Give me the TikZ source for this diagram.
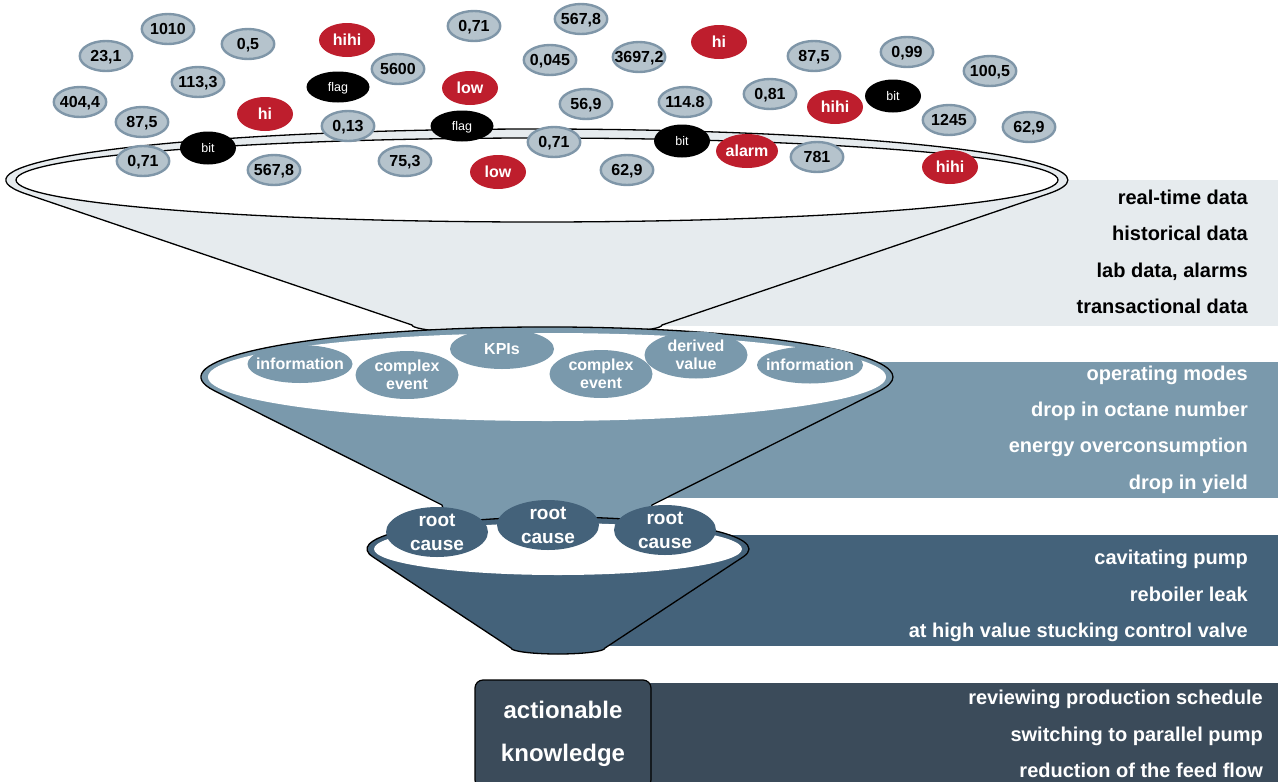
\documentclass[tikz,border=0pt]{standalone}
\usepackage{fontspec}
\setmainfont{Liberation Sans}
\usetikzlibrary{shapes.geometric}

\definecolor{rimgrey}{HTML}{E6EBEE}
\definecolor{valfill}{HTML}{B5C3CC}
\definecolor{valline}{HTML}{7F96A8}
\definecolor{alarmred}{HTML}{BE1E2D}
\definecolor{steel}{HTML}{7A99AC}
\definecolor{slate}{HTML}{44627A}
\definecolor{navy}{HTML}{3B4B5A}

\tikzset{
  funnelline/.style={draw=black, line width=1.3pt, line join=round},
  val/.style={ellipse, draw=valline, line width=2.4pt, fill=valfill,
    minimum width=52.5pt, minimum height=30pt, inner xsep=-6pt, inner ysep=0pt,
    text height=11.5pt, text depth=0pt,
    font=\fontsize{16}{18}\selectfont\bfseries, text=black},
  alert/.style={ellipse, fill=alarmred, minimum width=56pt, minimum height=34pt,
    inner xsep=-4pt, inner ysep=0pt, text height=11.5pt, text depth=0pt,
    font=\fontsize{16}{18}\selectfont\bfseries, text=white},
  flagged/.style={ellipse, fill=black, minimum width=56pt, minimum height=33pt,
    inner sep=0pt, text height=9pt, text depth=0pt,
    font=\fontsize{12.5}{14}\selectfont, text=white},
  info/.style={ellipse, fill=steel, minimum width=104pt, minimum height=40pt,
    inner xsep=-9pt, inner ysep=-2pt, align=center,
    font=\fontsize{16}{18}\selectfont\bfseries, text=white},
  cause/.style={ellipse, fill=slate, minimum width=102pt, minimum height=50pt,
    inner xsep=-2pt, inner ysep=-2pt, align=center,
    font=\fontsize{19}{24}\selectfont\bfseries, text=white},
  datatxt/.style={anchor=mid east, inner sep=0pt,
    font=\fontsize{20}{22}\selectfont\bfseries},
  knowbox/.style={draw=black, line width=1.2pt, rounded corners=8pt, fill=navy,
    minimum width=176pt, minimum height=108pt, align=center, text=white,
    font=\fontsize{24}{43}\selectfont\bfseries}
}

\begin{document}
\begin{tikzpicture}[x=1pt, y=-1pt]
\useasboundingbox (0,0) rectangle (1278,782);

% colour bands behind the funnels
\fill[rimgrey] (540,180) rectangle (1278,326);
\fill[steel]   (560,362) rectangle (1278,498);
\fill[slate]   (560,535) rectangle (1278,646);
\fill[navy]    (600,683) rectangle (1278,782);

% top funnel: raw data
\path[funnelline, fill=rimgrey] (26.0,193.9)
  arc[start angle=164.2, end angle=375.8, x radius=531, y radius=51]
  -- (662,325) arc[start angle=0, end angle=180, x radius=125, y radius=10] -- cycle;
\draw[funnelline, fill=white] (537,180) ellipse [x radius=521, y radius=42];

% raw values
\node[val] (v1)  at (168,29)  {1010};
\node[val] (v2)  at (106,56)  {23,1};
\node[val] (v3)  at (248,44)  {0,5};
\node[val] (v4)  at (398,69)  {5600};
\node[val] (v5)  at (198,82)  {113,3};
\node[val] (v6)  at (80,102)  {404,4};
\node[val] (v7)  at (142,122) {87,5};
\node[val] (v8)  at (348,126) {0,13};
\node[val] (v9)  at (143,161) {0,71};
\node[val] (v10) at (274,170) {567,8};
\node[val] (v11) at (405,161) {75,3};
\node[val] (v12) at (474,26)  {0,71};
\node[val] (v13) at (581,19)  {567,8};
\node[val] (v14) at (550,60)  {0,045};
\node[val] (v15) at (639,57)  {3697,2};
\node[val] (v16) at (814,56)  {87,5};
\node[val] (v17) at (586,104) {56,9};
\node[val] (v18) at (685,102) {114.8};
\node[val] (v19) at (770,94)  {0,81};
\node[val] (v20) at (554,142) {0,71};
\node[val] (v21) at (817,157) {781};
\node[val] (v22) at (627,170) {62,9};
\node[val] (v23) at (907,52)  {0,99};
\node[val] (v24) at (990,71)  {100,5};
\node[val] (v25) at (949,120) {1245};
\node[val] (v26) at (1029,127) {62,9};

% limit states
\node[alert] (a1) at (347,40)  {hihi};
\node[alert] (a2) at (265,114) {hi};
\node[alert] (a3) at (470,88)  {low};
\node[alert] (a4) at (498,172) {low};
\node[alert] (a5) at (719,42)  {hi};
\node[alert] (a6) at (835,107) {hihi};
\node[alert, minimum width=62pt] (a7) at (747,151) {alarm};
\node[alert] (a8) at (950,167) {hihi};

% binary signals
\node[flagged, minimum width=63pt, minimum height=31pt] (f1) at (338,87)  {flag};
\node[flagged] (f2) at (208,148) {bit};
\node[flagged, minimum width=63pt, minimum height=31pt] (f3) at (462,126) {flag};
\node[flagged] (f4) at (682,141) {bit};
\node[flagged] (f5) at (893,96)  {bit};

% middle funnel: events and indicators
\path[funnelline, fill=steel] (214.5,390.8)
  arc[start angle=163.94, end angle=376.06, x radius=346, y radius=50]
  -- (652,505) arc[start angle=0, end angle=180, x radius=105, y radius=20] -- cycle;
\fill[white] (547,377) ellipse [x radius=339, y radius=44];

\node[info, minimum width=105pt, minimum height=38pt] (m1) at (300,364) {information};
\node[info, minimum width=103pt, minimum height=48pt] (m2) at (407,375) {complex\\event};
\node[info] (m3) at (502,349) {KPIs};
\node[info, minimum width=103pt, minimum height=48pt] (m4) at (601,374) {complex\\event};
\node[info, minimum width=103pt, minimum height=47pt] (m5) at (696,355) {derived\\value};
\node[info, minimum width=106pt, minimum height=37pt] (m6) at (810,365) {information};

% bottom funnel: root causes
\path[funnelline, fill=slate] (372.9,556.9)
  arc[start angle=165.75, end angle=374.25, x radius=191, y radius=32]
  -- (605,648) arc[start angle=0, end angle=180, x radius=47, y radius=6] -- cycle;
\fill[white] (558,549) ellipse [x radius=184, y radius=26];

\node[cause] (r1) at (437,532) {root\\cause};
\node[cause] (r2) at (548,525) {root\\cause};
\node[cause] (r3) at (665,530) {root\\cause};

% result
\node[knowbox] (k) at (563,734) {actionable\\knowledge};

% band captions
\node[datatxt] (t1) at (1248,202) {real-time data};
\node[datatxt] (t2) at (1248,238) {historical data};
\node[datatxt] (t3) at (1248,275) {lab data, alarms};
\node[datatxt] (t4) at (1248,311) {transactional data};

\node[datatxt, text=white] (t5) at (1248,378) {operating modes};
\node[datatxt, text=white] (t6) at (1248,414) {drop in octane number};
\node[datatxt, text=white] (t7) at (1248,450) {energy overconsumption};
\node[datatxt, text=white] (t8) at (1248,487) {drop in yield};

\node[datatxt, text=white] (t9)  at (1248,562) {cavitating pump};
\node[datatxt, text=white] (t10) at (1248,599) {reboiler leak};
\node[datatxt, text=white] (t11) at (1248,635) {at high value stucking control valve};

\node[datatxt, text=white] (t12) at (1263,702) {reviewing production schedule};
\node[datatxt, text=white] (t13) at (1263,739) {switching to parallel pump};
\node[datatxt, text=white] (t14) at (1263,775) {reduction of the feed flow};
\end{tikzpicture}
\end{document}
